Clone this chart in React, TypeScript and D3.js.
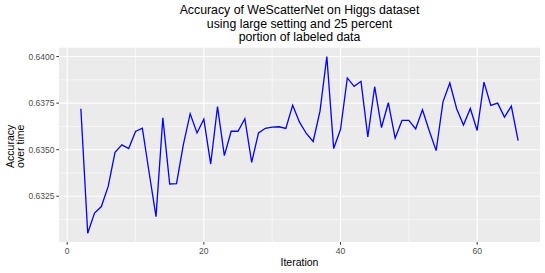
import React from "react";
import * as d3 from "d3";

const iterations: number[] = [
  2, 3, 4, 5, 6, 7, 8, 9, 10, 11, 12, 13, 14, 15, 16, 17, 18, 19, 20, 21, 22, 23, 24, 25, 26, 27, 28, 29, 30, 31, 32, 33, 34,
  35, 36, 37, 38, 39, 40, 41, 42, 43, 44, 45, 46, 47, 48, 49, 50, 51, 52, 53, 54, 55, 56, 57, 58, 59, 60, 61, 62, 63, 64, 65, 66,
];
const accuracy: number[] = [
  0.6372, 0.63052, 0.6316, 0.63195, 0.63303, 0.63486, 0.63526, 0.63506, 0.63598, 0.63615, 0.63375, 0.63141, 0.63671,
  0.63316, 0.63318, 0.63527, 0.63693, 0.6359, 0.63664, 0.63423, 0.63731, 0.63468, 0.63599, 0.63599, 0.63666, 0.63432,
  0.6359, 0.63615, 0.63621, 0.63623, 0.63614, 0.63739, 0.63648, 0.63587, 0.63544, 0.63707, 0.64, 0.63506, 0.63608,
  0.63885, 0.6384, 0.63867, 0.63569, 0.63838, 0.63619, 0.63752, 0.63562, 0.63657, 0.63657, 0.63612, 0.63714, 0.636,
  0.63495, 0.63757, 0.63858, 0.6372, 0.63632, 0.63721, 0.63603, 0.63863, 0.63738, 0.6375, 0.63675, 0.63734, 0.63549,
];
const xTicks: number[] = [0, 20, 40, 60];
const xMinor: number[] = [10, 30, 50];
const yTicks: number[] = [0.6325, 0.635, 0.6375, 0.64];
const yMinor: number[] = [0.63125, 0.63375, 0.63625, 0.63875];
const titleLines: string[] = [
  "Accuracy of WeScatterNet on Higgs dataset",
  "using large setting and 25 percent",
  "portion of labeled data",
];
const xTitle = "Iteration";
const yTitleLines: string[] = ["Accuracy", "over time"];

export default function App() {
  const W = 545;
  const H = 273;
  const left = 59;
  const right = 540;
  const top = 47.7;
  const bottom = 242;
  const font = "'Liberation Sans', Arial, sans-serif";

  const xExt = d3.extent(iterations) as [number, number];
  const xPad = (xExt[1] - xExt[0]) * 0.05;
  const yExt = d3.extent(accuracy) as [number, number];
  const yPad = (yExt[1] - yExt[0]) * 0.05;

  const x = d3.scaleLinear().domain([xExt[0] - xPad, xExt[1] + xPad]).range([left, right]);
  const y = d3.scaleLinear().domain([yExt[0] - yPad, yExt[1] + yPad]).range([bottom, top]);

  const line = d3
    .line<number>()
    .x((_, i) => x(iterations[i]))
    .y((d) => y(d));

  const fmt = d3.format(".4f");
  const cx = (left + right) / 2;
  const cy = (top + bottom) / 2 + 1.5;

  return (
    <svg width={W} height={H} style={{ position: "absolute", left: 0, top: 0 }}>
      <rect x={0} y={0} width={W} height={H} fill="#FFFFFF" />
      <rect x={left} y={top} width={right - left} height={bottom - top} fill="#EBEBEB" />
      {xMinor.map((t) => (
        <line key={"xm" + t} x1={x(t)} x2={x(t)} y1={top} y2={bottom} stroke="#FFFFFF" strokeWidth={0.55} />
      ))}
      {yMinor.map((t) => (
        <line key={"ym" + t} x1={left} x2={right} y1={y(t)} y2={y(t)} stroke="#FFFFFF" strokeWidth={0.55} />
      ))}
      {xTicks.map((t) => (
        <line key={"xg" + t} x1={x(t)} x2={x(t)} y1={top} y2={bottom} stroke="#FFFFFF" strokeWidth={1.1} />
      ))}
      {yTicks.map((t) => (
        <line key={"yg" + t} x1={left} x2={right} y1={y(t)} y2={y(t)} stroke="#FFFFFF" strokeWidth={1.1} />
      ))}
      <path d={line(accuracy) || ""} fill="none" stroke="#0000FF" strokeWidth={1.3} />
      {xTicks.map((t) => (
        <g key={"xt" + t}>
          <line x1={x(t)} x2={x(t)} y1={bottom} y2={bottom + 2.7} stroke="#333333" strokeWidth={1} />
          <text x={x(t)} y={bottom + 11.5} textAnchor="middle" fontFamily={font} fontSize={8.5} fill="#4D4D4D">
            {t}
          </text>
        </g>
      ))}
      {yTicks.map((t) => (
        <g key={"yt" + t}>
          <line x1={left - 2.7} x2={left} y1={y(t)} y2={y(t)} stroke="#333333" strokeWidth={1} />
          <text x={left - 4.5} y={y(t) + 3} textAnchor="end" fontFamily={font} fontSize={8.5} fill="#4D4D4D">
            {fmt(t)}
          </text>
        </g>
      ))}
      <text x={cx} y={266} textAnchor="middle" fontFamily={font} fontSize={10.5} fill="#000000">
        {xTitle}
      </text>
      {yTitleLines.map((s, i) => (
        <text
          key={s}
          transform={`translate(${13.5 + i * 10.5},${cy}) rotate(-90)`}
          textAnchor="middle"
          fontFamily={font}
          fontSize={10.5}
          fill="#000000"
        >
          {s}
        </text>
      ))}
      {titleLines.map((s, i) => (
        <text key={s} x={cx} y={14 + i * 13.5} textAnchor="middle" fontFamily={font} fontSize={12.3} fill="#000000">
          {s}
        </text>
      ))}
    </svg>
  );
}
